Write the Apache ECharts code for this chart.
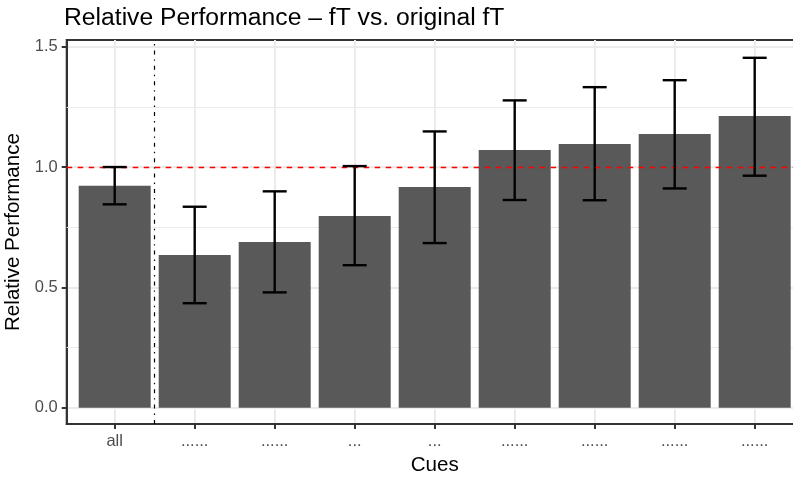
<!DOCTYPE html>
<html>
<head>
<meta charset="utf-8">
<script src="https://cdn.jsdelivr.net/npm/echarts@6/dist/echarts.min.js"></script>
<style>
  html, body { margin: 0; padding: 0; background: #fff; }
  #chart { width: 793px; height: 479px; }
</style>
</head>
<body>
<div id="chart"></div>
<script>
// Data
const cues = ['all', '......', '......', '...', '...', '......', '......', '......', '......'];
const performance = [0.922, 0.634, 0.688, 0.796, 0.917, 1.071, 1.096, 1.137, 1.212];
const lowerBound = [0.845, 0.434, 0.479, 0.592, 0.684, 0.863, 0.862, 0.911, 0.964];
const upperBound = [1.000, 0.835, 0.899, 1.004, 1.148, 1.277, 1.332, 1.361, 1.454];
const yTicks = [0, 0.5, 1.0, 1.5];
const yMinorTicks = [0.25, 0.75, 1.25];
const referenceLevel = 1.0;
const separatorAt = 0.5;

const cueIndex = cues.map((c, i) => i);
const font = 'Liberation Sans, Arial, Helvetica, sans-serif';

const chart = echarts.init(document.getElementById('chart'), null, { renderer: 'canvas' });

const option = {
    backgroundColor: '#fff',
    animation: false,
    title: {
        text: 'Relative Performance \u2013 fT vs. original fT',
        left: 64,
        top: 6,
        padding: 0,
        textStyle: { fontFamily: font, fontSize: 24.7, fontWeight: 'normal', color: '#000' }
    },
    grid: {
        left: 66.7,
        width: 736,
        top: 40,
        height: 384,
        outerBoundsMode: 'none',
        show: true,
        borderColor: '#333333',
        borderWidth: 2
    },
    xAxis: {
        type: 'value',
        min: -0.6,
        max: 8.6,
        name: 'Cues',
        nameLocation: 'middle',
        nameGap: 27,
        nameTextStyle: { fontFamily: font, fontSize: 20.6, color: '#000' },
        axisLine: { show: true, onZero: false, lineStyle: { color: '#333333', width: 2 } },
        axisTick: { show: true, customValues: cueIndex, length: 5, lineStyle: { color: '#333333', width: 2 } },
        axisLabel: {
            customValues: cueIndex,
            margin: 9,
            fontFamily: font,
            fontSize: 16.5,
            color: '#4D4D4D',
            formatter: (v) => cues[Math.round(v)]
        },
        splitLine: { show: true, lineStyle: { color: '#EBEBEB', width: 2 } }
    },
    yAxis: {
        type: 'value',
        min: -0.068,
        max: 1.528,
        name: 'Relative Performance',
        nameLocation: 'middle',
        nameGap: 38,
        nameTextStyle: { fontFamily: font, fontSize: 20.6, color: '#000' },
        axisLine: { show: true, onZero: false, lineStyle: { color: '#333333', width: 2 } },
        axisTick: { show: true, customValues: yTicks, length: 5, lineStyle: { color: '#333333', width: 2 } },
        axisLabel: {
            customValues: yTicks,
            margin: 9,
            fontFamily: font,
            fontSize: 16.5,
            color: '#4D4D4D',
            formatter: (v) => v.toFixed(1)
        },
        splitLine: { show: true, lineStyle: { color: '#EBEBEB', width: 2 } }
    },
    series: [
        {
            // minor horizontal grid lines
            type: 'line',
            data: [],
            silent: true,
            z: 1,
            markLine: {
                silent: true,
                symbol: 'none',
                z: 1,
                label: { show: false },
                lineStyle: { color: '#EBEBEB', width: 1, type: 'solid' },
                data: yMinorTicks.map(v => ({ yAxis: v }))
            }
        },
        {
            type: 'bar',
            z: 2,
            barWidth: 72,
            itemStyle: { color: '#595959' },
            data: performance.map((v, i) => [i, v])
        },
        {
            // reference level
            type: 'line',
            data: [],
            silent: true,
            z: 5,
            markLine: {
                silent: true,
                symbol: 'none',
                z: 5,
                label: { show: false },
                lineStyle: { color: '#FF0000', width: 1.4, type: [5.5, 5.5] },
                data: [{ yAxis: referenceLevel }]
            }
        },
        {
            // separator between "all" and the single cues
            type: 'line',
            data: [],
            silent: true,
            z: 5,
            markLine: {
                silent: true,
                symbol: 'none',
                z: 5,
                label: { show: false },
                lineStyle: { color: '#000000', width: 1.2, type: [4, 5, 1.4, 5] },
                data: [{ xAxis: separatorAt }]
            }
        },
        {
            type: 'custom',
            z: 6,
            data: cueIndex.map(i => [i, lowerBound[i], upperBound[i]]),
            encode: { x: 0, y: [1, 2] },
            renderItem: (params, api) => {
                const x = api.value(0);
                const lo = api.coord([x, api.value(1)]);
                const hi = api.coord([x, api.value(2)]);
                const half = api.size([0.3, 0])[0] / 2;
                const style = { stroke: '#000', lineWidth: 2.4 };
                return {
                    type: 'group',
                    children: [
                        { type: 'line', shape: { x1: lo[0], y1: lo[1], x2: hi[0], y2: hi[1] }, style },
                        { type: 'line', shape: { x1: lo[0] - half, y1: lo[1], x2: lo[0] + half, y2: lo[1] }, style },
                        { type: 'line', shape: { x1: hi[0] - half, y1: hi[1], x2: hi[0] + half, y2: hi[1] }, style }
                    ]
                };
            }
        }
    ]
};

chart.setOption(option);
</script>
</body>
</html>
